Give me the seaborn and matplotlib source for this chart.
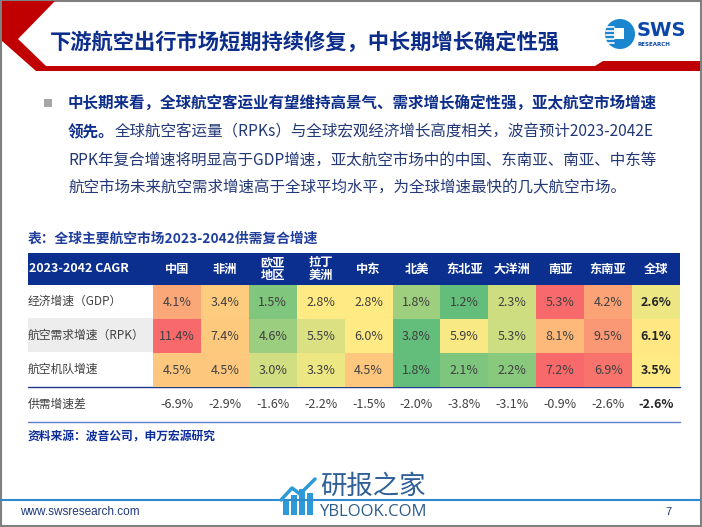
import numpy as np
import pandas as pd
import matplotlib
matplotlib.use("Agg")
import matplotlib.pyplot as plt
import seaborn as sns
from matplotlib.colors import LinearSegmentedColormap
from matplotlib.patches import Polygon, Rectangle, Circle

# ---- data ----
markets = ['中国', '非洲', '欧亚\n地区', '拉丁\n美洲', '中东', '北美', '东北亚', '大洋洲', '南亚', '东南亚', '全球']
row_labels = ['经济增速（GDP）', '航空需求增速（RPK）', '航空机队增速']
gdp = [4.1, 3.4, 1.5, 2.8, 2.8, 1.8, 1.2, 2.3, 5.3, 4.2, 2.6]
rpk = [11.4, 7.4, 4.6, 5.5, 6.0, 3.8, 5.9, 5.3, 8.1, 9.5, 6.1]
fleet = [4.5, 4.5, 3.0, 3.3, 4.5, 1.8, 2.1, 2.2, 7.2, 6.9, 3.5]
gap = [-6.9, -2.9, -1.6, -2.2, -1.5, -2.0, -3.8, -3.1, -0.9, -2.6, -2.6]
gap_label = '供需增速差'

title = '下游航空出行市场短期持续修复，中长期增长确定性强'
bullet_bold1 = '中长期来看，全球航空客运业有望维持高景气、需求增长确定性强，亚太航空市场增速'
bullet_bold2 = '领先。'
bullet_lines = ['全球航空客运量（RPKs）与全球宏观经济增长高度相关，波音预计2023-2042E',
                'RPK年复合增速将明显高于GDP增速，亚太航空市场中的中国、东南亚、南亚、中东等',
                '航空市场未来航空需求增速高于全球平均水平，为全球增速最快的几大航空市场。']
table_title = '表：全球主要航空市场2023-2042供需复合增速'
source = '资料来源：波音公司，申万宏源研究'

sns.set_theme(style="white")
plt.rcParams['font.family'] = ['Noto Sans CJK SC', 'DejaVu Sans']

W, H = 702, 527
fig = plt.figure(figsize=(W / 100, H / 100), dpi=100)
fig.patch.set_facecolor('white')

# background axes in pixel coordinates
bg = fig.add_axes([0, 0, 1, 1])
bg.set_xlim(0, W)
bg.set_ylim(H, 0)
bg.axis('off')

navy = '#0C2D8A'
red = '#C00000'

# slide frame
bg.add_patch(Rectangle((0.5, 0.5), W - 1.5, H - 1.5, fill=False, ec='#808080', lw=1.5))

# title banner shape
bg.add_patch(Polygon([(2, 1), (55, 1), (18, 39), (46, 66), (595, 66), (603, 61),
                      (700, 61), (700, 71), (36, 71), (2, 41)], closed=True, fc=red, ec='none'))
bg.text(50, 42, title, fontsize=15.3, fontweight='bold', color=navy, va='center', ha='left')

# logo
bg.add_patch(Circle((620, 34), 15, fc='#1A86D0', ec='none'))
for yy in [27, 31, 35, 39, 43]:
    bg.plot([606, 614], [yy, yy], color='white', lw=1.2)
bg.add_patch(Rectangle((614, 28), 10, 11, fc='white', ec='none'))
bg.text(637, 31, 'SWS', fontsize=14, fontweight='bold', color='#0B47A8', va='center', ha='left',
        family='DejaVu Sans')
bg.text(638, 44, 'RESEARCH', fontsize=4, fontweight='bold', color='#0B47A8', va='center', ha='left',
        family='DejaVu Sans')

# bullet paragraph
fs_b = 11.2
bg.add_patch(Rectangle((44, 99), 8, 8, fc='#A6A6A6', ec='none'))
bg.text(68, 103, bullet_bold1, fontsize=fs_b, fontweight='bold', color=navy, va='center')
t_b2 = bg.text(68, 132, bullet_bold2, fontsize=fs_b, fontweight='bold', color=navy, va='center')
fig.canvas.draw()
r = fig.canvas.get_renderer()
bb = t_b2.get_window_extent(renderer=r)
x_after = bg.transData.inverted().transform((bb.x1, bb.y0))[0]
txt_col = '#233876'
bg.text(x_after, 132, bullet_lines[0], fontsize=fs_b, color=txt_col, va='center')
bg.text(68, 160, bullet_lines[1], fontsize=fs_b, color=txt_col, va='center')
bg.text(68, 188, bullet_lines[2], fontsize=fs_b, color=txt_col, va='center')

# table title
bg.text(28, 239, table_title, fontsize=9.9, fontweight='bold', color='#1F3E9C', va='center')

# table geometry
tx0, tx1 = 28, 680
cx0 = 153
cw = (tx1 - cx0) / len(markets)
hy0, hy1 = 253, 285
ry = [285, 318, 352, 387]
gy = (387, 421)

# header
bg.add_patch(Rectangle((tx0, hy0), tx1 - tx0, hy1 - hy0, fc='#0A2F8F', ec='none'))
bg.text(tx0 + 1, (hy0 + hy1) / 2, '2023-2042 CAGR', fontsize=9, fontweight='bold', color='white', va='center')
for j, m in enumerate(markets):
    bg.text(cx0 + cw * (j + 0.5), (hy0 + hy1) / 2, m, fontsize=8.8, fontweight='bold', color='white',
            va='center', ha='center', linespacing=1.0)

# row labels
bg.add_patch(Rectangle((tx0, ry[1]), cx0 - tx0, ry[2] - ry[1], fc='#EDEDED', ec='none'))
for i, lab in enumerate(row_labels):
    bg.text(tx0, (ry[i] + ry[i + 1]) / 2, lab, fontsize=8.5, color='#404040', va='center')

# heatmap with per-row 3-colour scale (min / median / max)
vals = pd.DataFrame([gdp, rpk, fleet], index=row_labels, columns=markets)
norm = vals.copy().astype(float)
for i in range(len(vals)):
    row = vals.iloc[i].values.astype(float)
    lo, med, hi = row.min(), np.percentile(row, 50), row.max()
    norm.iloc[i] = np.where(row <= med, 0.5 * (row - lo) / (med - lo),
                            0.5 + 0.5 * (row - med) / (hi - med))
annot = vals.map(lambda v: f'{v:.1f}%')
cmap = LinearSegmentedColormap.from_list('excel3', ['#63BE7B', '#FFEB84', '#F8696B'])

ax = fig.add_axes([cx0 / W, 1 - ry[3] / H, (tx1 - cx0) / W, (ry[3] - ry[0]) / H])
sns.heatmap(norm, cmap=cmap, vmin=0, vmax=1, annot=annot, fmt='', cbar=False, ax=ax,
            xticklabels=False, yticklabels=False, linewidths=0,
            annot_kws={'fontsize': 9, 'color': '#404040'})
ncol = len(markets)
for k, t in enumerate(ax.texts):
    t.set_color('#404040')
    if k % ncol == ncol - 1:
        t.set_fontweight('bold')
        t.set_color('#262626')

# gap row
bg.text(tx0, sum(gy) / 2, gap_label, fontsize=8.5, color='#404040', va='center')
for j, v in enumerate(gap):
    last = j == len(gap) - 1
    bg.text(cx0 + cw * (j + 0.5), sum(gy) / 2, f'{v:.1f}%', fontsize=9,
            fontweight='bold' if last else 'normal', color='#262626' if last else '#404040',
            va='center', ha='center')
bg.plot([tx0, tx1], [387, 387], color='#1F3A8A', lw=1)
bg.plot([tx0, tx1], [422, 422], color='#5B7FC7', lw=1)

bg.text(28, 437, source, fontsize=8.5, fontweight='bold', color='#0C2D9A', va='center')

# footer
bg.plot([1, W - 2], [500, 500], color='#2E8BD0', lw=1.5)
bg.text(20, 512, 'www.swsresearch.com', fontsize=8.5, color='#1F3A7A', va='center', family='Liberation Sans')
bg.text(668, 512, '7', fontsize=8, color='#1F3A7A', va='center', ha='center', family='Liberation Sans')

# watermark
for k, (bx, bh) in enumerate([(283, 14), (291, 20), (299, 26), (307, 22)]):
    bg.add_patch(Rectangle((bx, 515 - bh), 6, bh, fc='#2C9AD8', ec='none'))
bg.plot([281, 292, 300, 315], [500, 488, 494, 479], color='#2C9AD8', lw=2.5)
bg.text(320, 486, '研报之家', fontsize=19, color='#2E5F96', va='center')
bg.text(320, 512, 'YBLOOK.COM', fontsize=12, color='#2F5D8A', va='center', family='Open Sans')

fig.savefig('out.png', dpi=100, facecolor='white')
